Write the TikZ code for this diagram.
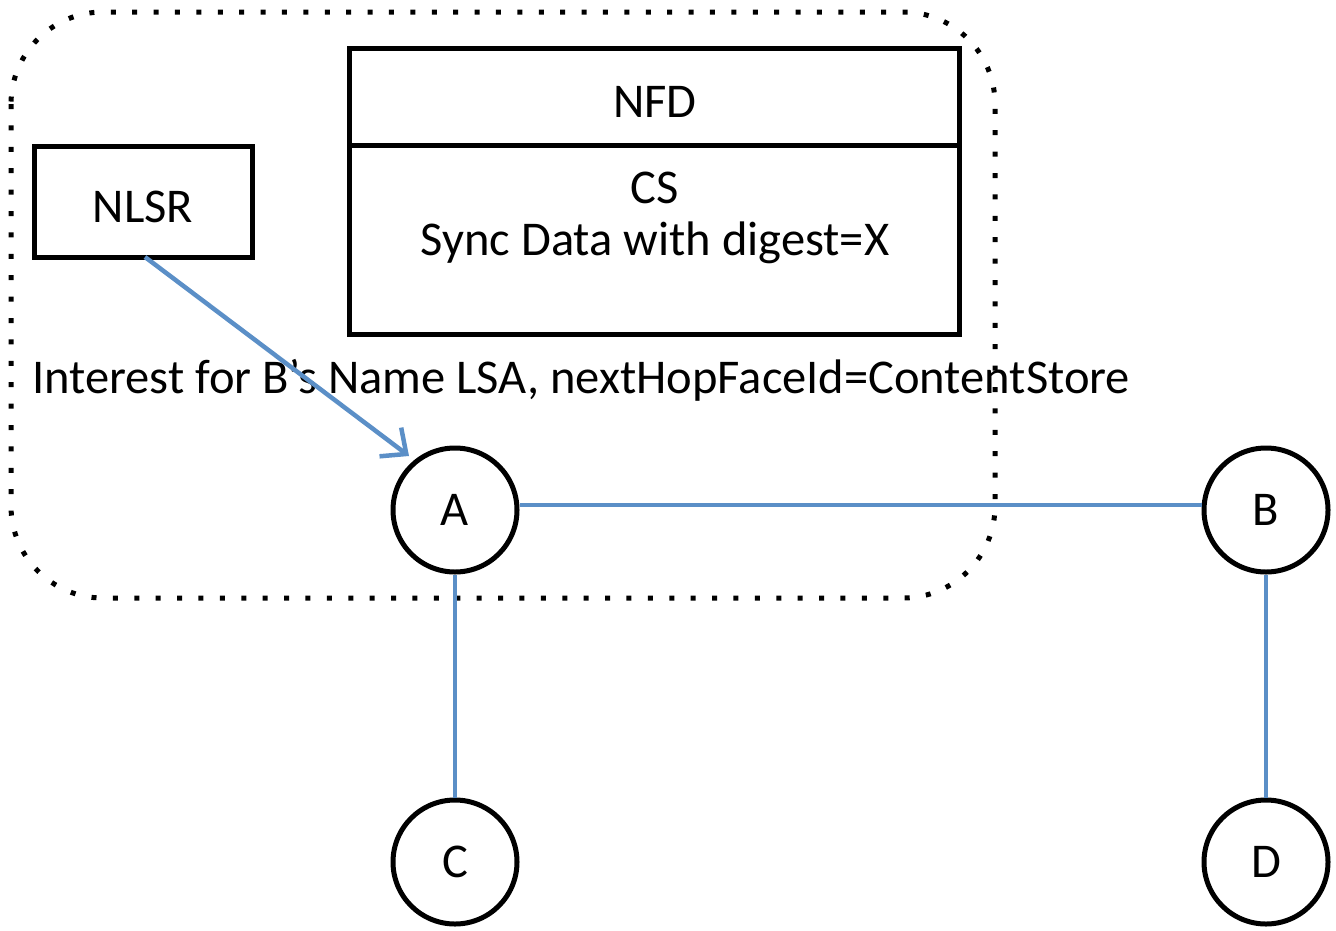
\documentclass[tikz,border=0pt]{standalone}
\usepackage{fontspec}
\setmainfont{Carlito}
\usetikzlibrary{arrows.meta}
\definecolor{lnk}{HTML}{5B8FC7}
\tikzset{
  box/.style={draw=black, line width=5pt, rectangle, inner sep=0pt},
  nodec/.style={draw=black, line width=5pt, circle, minimum size=124pt, inner sep=0pt, font=\fontsize{48.5}{56}\selectfont},
  link/.style={draw=lnk, line width=4.5pt},
  txt/.style={font=\fontsize{48.5}{56}\selectfont, inner sep=0pt},
  region/.style={draw=black, line width=5pt, dash pattern=on 5pt off 16.4pt, rounded corners=92pt}
}
\begin{document}
\begin{tikzpicture}[x=1pt,y=-1pt]
\useasboundingbox (0,0) rectangle (1336,930);
\draw[region] (11,12) rectangle (995,598);
\node[box, minimum width=218pt, minimum height=111pt] (nlsr) at (143,201.5) {};
\node[txt] (nlsrt) at (143,207) {NLSR};
\node[box, minimum width=610pt, minimum height=286pt] (nfd) at (654,191) {};
\coordinate (dl) at (349,145);
\coordinate (dr) at (959,145);
\draw[line width=5pt] (dl) -- (dr);
\node[txt] (nfdt) at (655,102) {NFD};
\node[txt] (cs) at (655,188) {CS};
\node[txt] (sync) at (655,243) {Sync Data with digest=X};
\node[txt, anchor=west] (lbl) at (32,380) {Interest for B’s Name LSA, nextHopFaceId=ContentStore};
\node[nodec] (A) at (455,510) {A};
\node[nodec] (B) at (1266,510) {B};
\node[nodec] (C) at (455,862) {C};
\node[nodec] (D) at (1266,862) {D};
\draw[link] (A.east |- 0,505) -- (B.west |- 0,505);
\draw[link] (A) -- (C);
\draw[link] (B) -- (D);
\coordinate (ns) at (145,257);
\coordinate (tip) at (409,456);
\draw[link, -{Straight Barb[length=20pt, width=36pt, line width=4.5pt]}] (ns) -- (tip);
\end{tikzpicture}
\end{document}
